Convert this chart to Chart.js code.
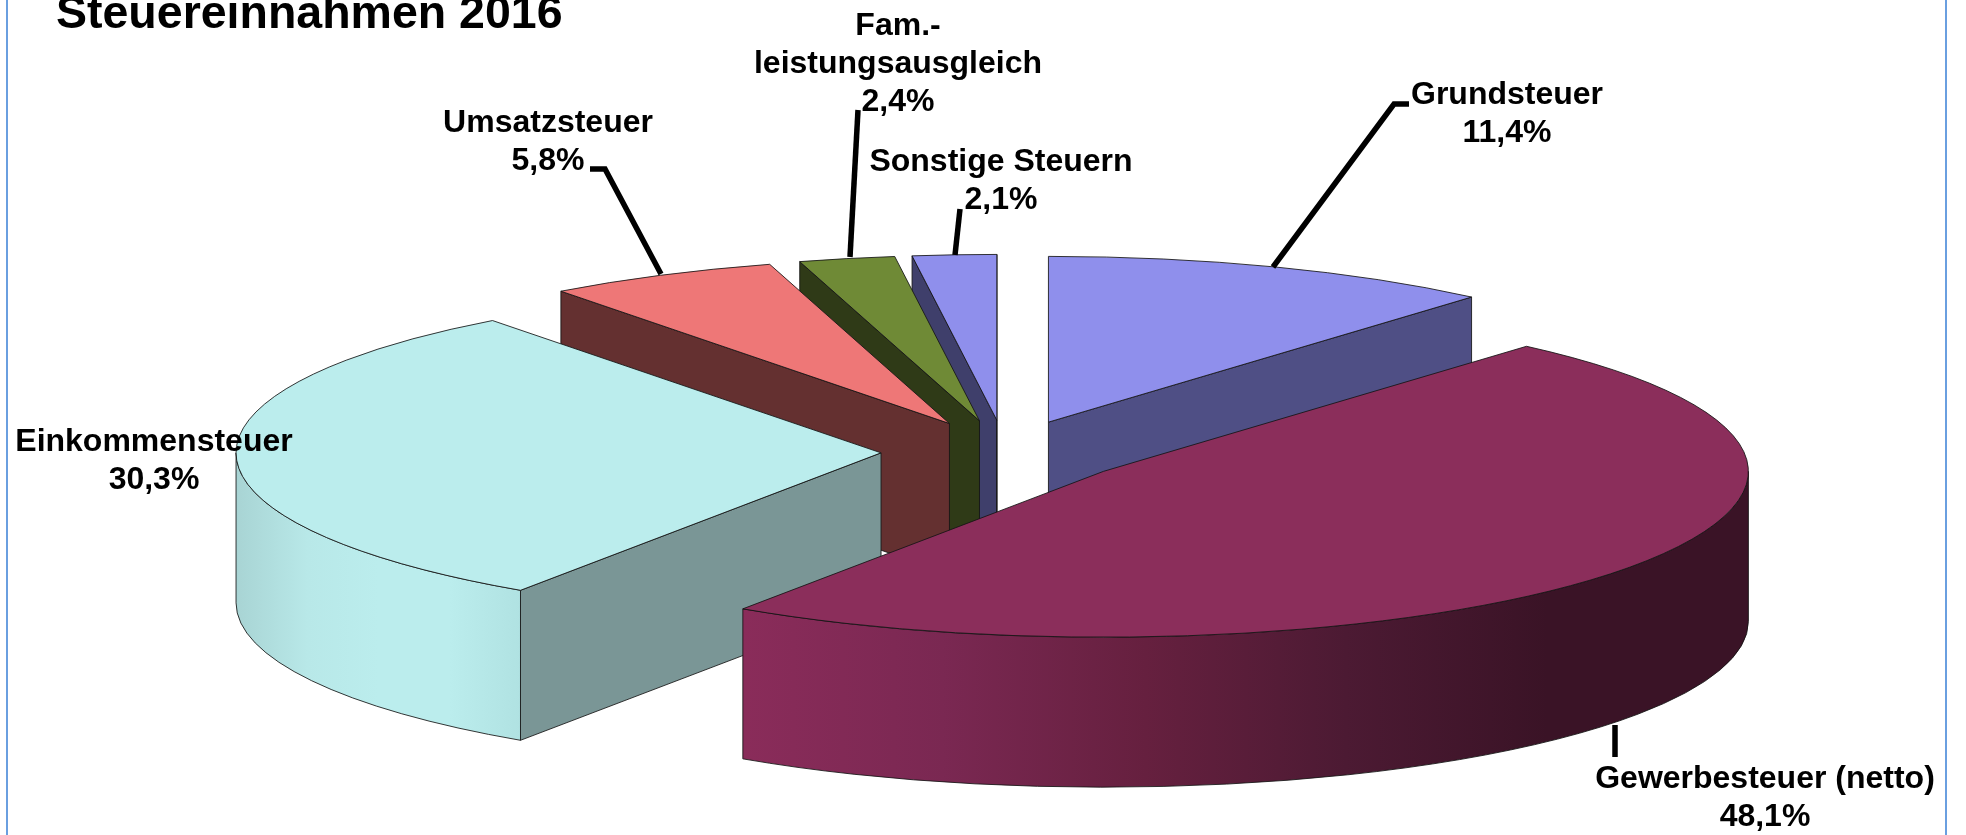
<!DOCTYPE html>
<html lang="de">
<head>
<meta charset="utf-8">
<title>Steuereinnahmen 2016</title>
<script src="https://cdn.jsdelivr.net/npm/chart.js@4"></script>
<style>
    html, body { margin: 0; padding: 0; background: #fff; overflow: hidden; }
    canvas { display: block; }
</style>
</head>
<body>
<canvas id="chart" width="1966" height="835"></canvas>
<script>
const TITLE = 'Steuereinnahmen 2016';
const categories = ['Grundsteuer', 'Gewerbesteuer (netto)', 'Einkommensteuer', 'Umsatzsteuer', 'Fam.-\nleistungsausgleich', 'Sonstige Steuern'];
const shares = [11.4, 48.1, 30.3, 5.8, 2.4, 2.1];

const topColors = ['#8f8fec', '#8b2e5b', '#bbeded', '#ee7777', '#6f8a36', '#8f8fec'];
const cutColors = ['#4f4f85', '#862b58', '#7a9696', '#643030', '#2f3a17', '#3f3f6b'];
// left to right shading of the round outer wall
const wallStops = [
    ['#4f4f85', '#4f4f85'],
    ['#8a2c5a', '#7a2852', '#66203f', '#4c1a33', '#3a1326', '#3a1326'],
    ['#a8d4d4', '#b8e8e8', '#bbeded', '#bbeded', '#b0e2e2'],
    ['#643030', '#643030'],
    ['#2f3a17', '#2f3a17'],
    ['#3f3f6b', '#3f3f6b']
];

// centre x of each label, y of its first line, then the leader line
const labelPlaces = [
    {x: 1507, y: 104, line: [[1409, 104], [1394, 104], [1273, 267]]},
    {x: 1765, y: 788, line: [[1615, 725], [1615, 757]]},
    {x: 154, y: 451, line: null},
    {x: 548, y: 132, line: [[590, 169], [605, 169], [661, 274]]},
    {x: 898, y: 35, line: [[858, 110], [850, 257]]},
    {x: 1001, y: 171, line: [[960, 209], [955, 255]]}
];

const SQUASH = 0.257;
const DEPTH = 150;
const EXPLODE = 124;
const RADIUS = 645;
const FONT = '"Liberation Sans", Arial, sans-serif';

function sliceGeometry(arc, cy) {
    let mid = (arc.startAngle + arc.endAngle) / 2;
    return {
        mid: mid,
        x: arc.x + Math.cos(mid) * arc.options.offset,
        y: cy + Math.sin(mid) * arc.options.offset * SQUASH,
        r: arc.outerRadius,
        start: arc.startAngle,
        end: arc.endAngle
    };
}

function drawCutFace(ctx, g, angle, color) {
    let px = g.x + Math.cos(angle) * g.r;
    let py = g.y + Math.sin(angle) * g.r * SQUASH;
    ctx.beginPath();
    ctx.moveTo(g.x, g.y);
    ctx.lineTo(px, py);
    ctx.lineTo(px, py + DEPTH);
    ctx.lineTo(g.x, g.y + DEPTH);
    ctx.closePath();
    ctx.fillStyle = color;
    ctx.fill();
    ctx.stroke();
}

function drawOuterWall(ctx, g, stops) {
    let a0 = Math.max(g.start, 0);
    let a1 = Math.min(g.end, Math.PI);
    if (a1 <= a0) {
        return;
    }
    let x0 = g.x + Math.cos(a1) * g.r;
    let x1 = g.x + Math.cos(a0) * g.r;
    let gradient = ctx.createLinearGradient(x0, 0, x1, 0);
    stops.forEach(function (color, index) {
        gradient.addColorStop(index / (stops.length - 1), color);
    });
    ctx.beginPath();
    ctx.ellipse(g.x, g.y, g.r, g.r * SQUASH, 0, a0, a1);
    ctx.ellipse(g.x, g.y + DEPTH, g.r, g.r * SQUASH, 0, a1, a0, true);
    ctx.closePath();
    ctx.fillStyle = gradient;
    ctx.fill();
    ctx.stroke();
}

function drawTop(ctx, g, color) {
    ctx.beginPath();
    ctx.moveTo(g.x, g.y);
    ctx.ellipse(g.x, g.y, g.r, g.r * SQUASH, 0, g.start, g.end);
    ctx.closePath();
    ctx.fillStyle = color;
    ctx.fill();
    ctx.stroke();
}

// Draws the flat pie arcs as tilted, exploded cake slices
const tiltedPie = {
    id: 'tiltedPie',
    beforeDatasetsDraw(chart) {
        let ctx = chart.ctx;
        let arcs = chart.getDatasetMeta(0).data;
        let cy = arcs[0].y;
        let order = arcs.map(function (arc, index) {
            return {index: index, g: sliceGeometry(arc, cy)};
        });
        order.sort(function (a, b) {
            return Math.sin(a.g.mid) - Math.sin(b.g.mid);
        });

        ctx.save();
        ctx.lineWidth = 1;
        ctx.strokeStyle = 'rgba(20, 20, 20, 0.85)';
        ctx.lineJoin = 'round';
        order.forEach(function (item) {
            let g = item.g;
            // only the cut faces turned to the viewer are drawn
            if (Math.sin(g.start - Math.PI / 2) > 0) {
                drawCutFace(ctx, g, g.start, cutColors[item.index]);
            }
            if (Math.sin(g.end + Math.PI / 2) > 0) {
                drawCutFace(ctx, g, g.end, cutColors[item.index]);
            }
            drawOuterWall(ctx, g, wallStops[item.index]);
            drawTop(ctx, g, arcs[item.index].options.backgroundColor);
        });
        ctx.restore();
        return false;
    },
    afterDraw(chart) {
        let ctx = chart.ctx;
        ctx.save();

        // frame
        ctx.fillStyle = '#6a9fe0';
        ctx.fillRect(6, 0, 2, 835);
        ctx.fillRect(1945, 0, 2, 835);

        ctx.fillStyle = '#000';
        ctx.textBaseline = 'alphabetic';
        ctx.textAlign = 'left';
        ctx.font = 'bold 46.5px ' + FONT;
        ctx.fillText(TITLE, 56, 28);

        ctx.strokeStyle = '#000';
        ctx.lineWidth = 5.5;
        ctx.lineJoin = 'miter';
        ctx.textAlign = 'center';
        ctx.font = 'bold 32px ' + FONT;
        categories.forEach(function (name, i) {
            let place = labelPlaces[i];
            let lines = name.split('\n');
            lines.push(shares[i].toFixed(1).replace('.', ',') + '%');
            lines.forEach(function (text, n) {
                ctx.fillText(text, place.x, place.y + n * 38);
            });
            if (place.line) {
                ctx.beginPath();
                place.line.forEach(function (point, n) {
                    if (n === 0) {
                        ctx.moveTo(point[0], point[1]);
                    } else {
                        ctx.lineTo(point[0], point[1]);
                    }
                });
                ctx.stroke();
            }
        });
        ctx.restore();
    }
};

new Chart(document.getElementById('chart'), {
    type: 'pie',
    data: {
        labels: categories.map(function (name) { return name.replace('\n', ''); }),
        datasets: [{
            data: shares,
            backgroundColor: topColors,
            borderWidth: 0,
            offset: EXPLODE,
            radius: RADIUS
        }]
    },
    options: {
        responsive: false,
        animation: false,
        layout: {padding: {left: 44, top: 69}},
        plugins: {
            legend: {display: false},
            tooltip: {enabled: false}
        }
    },
    plugins: [tiltedPie]
});
</script>
</body>
</html>
